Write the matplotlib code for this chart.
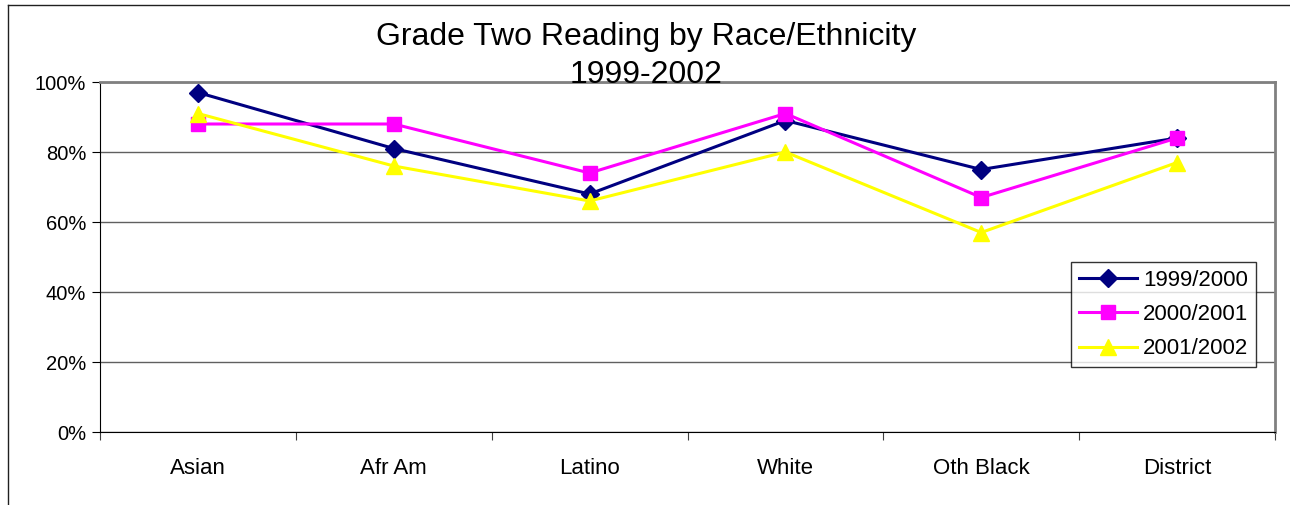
import matplotlib
matplotlib.use("Agg")
import matplotlib.pyplot as plt
from matplotlib.lines import Line2D

plt.rcParams['font.family'] = ['Liberation Sans', 'DejaVu Sans']

categories = ['Asian', 'Afr Am', 'Latino', 'White', 'Oth Black', 'District']
y1999 = [97, 81, 68, 89, 75, 84]
y2000 = [88, 88, 74, 91, 67, 84]
y2001 = [91, 76, 66, 80, 57, 77]
series_names = ['1999/2000', '2000/2001', '2001/2002']

fig = plt.figure(figsize=(12.9, 5.05), dpi=100)
ax = fig.add_axes([100 / 1290, 1 - 432 / 505, 1175 / 1290, 350 / 505])

x = [i + 0.5 for i in range(len(categories))]
ax.plot(x, y1999, color='#000080', marker='D', ms=9, lw=2.2, label=series_names[0], zorder=3)
ax.plot(x, y2000, color='#FF00FF', marker='s', ms=10, lw=2.2, label=series_names[1], zorder=3)
ax.plot(x, y2001, color='#FFFF00', marker='^', ms=11, lw=2.2, label=series_names[2], zorder=3)

ax.set_xlim(0, len(categories))
ax.set_ylim(0, 100)
ax.set_yticks(range(0, 101, 20))
ax.set_yticklabels([f'{v}%' for v in range(0, 101, 20)], fontsize=14.5)
ax.set_xticks(range(0, len(categories) + 1))
ax.set_xticklabels([])
ax.set_xticks(x, minor=True)
ax.set_xticklabels(categories, minor=True, fontsize=16)
ax.tick_params(axis='x', which='minor', length=0, pad=19)
ax.tick_params(axis='x', which='major', length=6, direction='out', color='#404040')
ax.tick_params(axis='y', length=6, direction='out', pad=4)
ax.yaxis.grid(True, color='#606060', lw=1)
ax.set_axisbelow(True)

ax.spines['top'].set_color('#808080')
ax.spines['right'].set_color('#808080')
ax.spines['top'].set_linewidth(2)
ax.spines['right'].set_linewidth(2)
ax.spines['left'].set_color('black')
ax.spines['bottom'].set_color('black')

leg = ax.legend(loc='upper left', bbox_to_anchor=(971 / 1175, (432 - 262) / 350),
                fontsize=16, frameon=True, fancybox=False, edgecolor='black',
                handlelength=2.6, borderpad=0.35, labelspacing=0.6, handletextpad=0.3,
                borderaxespad=0)
leg.get_frame().set_linewidth(1)

fig.text(646 / 1290, 1 - 37 / 505, 'Grade Two Reading by Race/Ethnicity',
         ha='center', va='center', fontsize=23)
fig.text(646 / 1290, 1 - 75 / 505, '1999-2002', ha='center', va='center', fontsize=23)

# outer chart frame (top and left edges visible)
fig.add_artist(Line2D([8 / 1290, 1], [1 - 5 / 505, 1 - 5 / 505], color='#202020', lw=1))
fig.add_artist(Line2D([8 / 1290, 8 / 1290], [0, 1 - 5 / 505], color='#202020', lw=1))

fig.savefig('out.png', dpi=100)
